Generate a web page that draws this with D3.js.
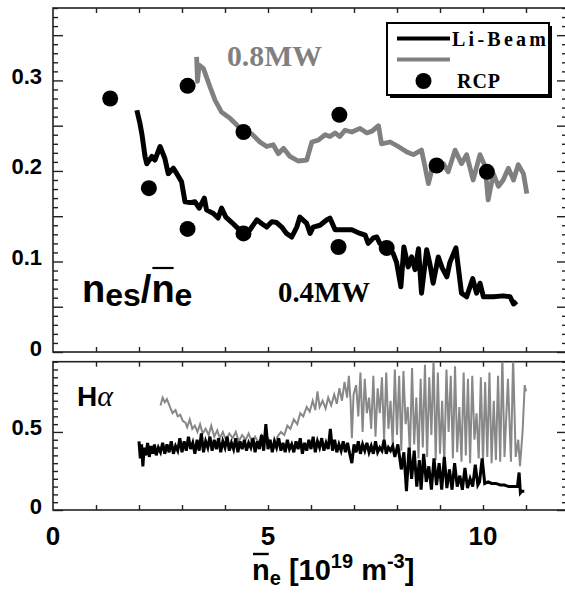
<!DOCTYPE html>
<html>
<head>
<meta charset="utf-8">
<script src="https://cdn.jsdelivr.net/npm/d3@7"></script>
<style>
  body { margin: 0; background: #fff; }
  svg { display: block; }
</style>
</head>
<body>
<svg id="chart" width="565" height="596"></svg>
<script>
// RCP probe points [ne, nes/ne]
const rcpPoints = [
  [1.33, 0.280], [2.23, 0.181], [3.13, 0.294], [3.13, 0.136], [4.43, 0.243],
  [4.43, 0.131], [6.66, 0.262], [6.64, 0.116], [7.76, 0.115], [8.92, 0.206],
  [10.09, 0.199],
]

// Li-beam, 0.4 MW (black)
const liBeam04 = [
  [1.95, 0.267], [2.02, 0.253], [2.07, 0.240], [2.14, 0.216], [2.18, 0.208],
  [2.30, 0.216], [2.37, 0.212], [2.49, 0.227], [2.60, 0.214], [2.68, 0.197],
  [2.80, 0.203], [2.88, 0.197], [2.99, 0.188], [3.07, 0.166], [3.19, 0.165],
  [3.30, 0.166], [3.40, 0.159], [3.52, 0.170], [3.57, 0.157], [3.73, 0.153],
  [3.84, 0.148], [3.92, 0.159], [4.02, 0.149], [4.16, 0.143], [4.27, 0.138],
  [4.43, 0.131], [4.58, 0.135], [4.74, 0.146], [4.85, 0.142], [4.97, 0.138],
  [5.09, 0.144], [5.20, 0.143], [5.32, 0.138], [5.43, 0.131], [5.55, 0.127],
  [5.67, 0.138], [5.74, 0.149], [5.90, 0.142], [5.98, 0.131], [6.05, 0.138],
  [6.21, 0.140], [6.37, 0.146], [6.44, 0.148], [6.56, 0.135], [6.79, 0.135],
  [6.95, 0.135], [7.14, 0.131], [7.26, 0.129], [7.33, 0.120], [7.45, 0.126],
  [7.53, 0.127], [7.60, 0.120], [7.76, 0.116], [7.91, 0.109], [7.99, 0.099],
  [8.09, 0.072], [8.16, 0.116], [8.26, 0.094], [8.34, 0.105], [8.42, 0.091],
  [8.50, 0.114], [8.57, 0.065], [8.69, 0.113], [8.77, 0.096], [8.84, 0.076],
  [8.96, 0.105], [9.05, 0.093], [9.16, 0.083], [9.23, 0.099], [9.37, 0.115],
  [9.50, 0.065], [9.62, 0.061], [9.76, 0.081], [9.85, 0.065], [9.93, 0.076],
  [10.01, 0.061], [10.24, 0.061], [10.47, 0.062], [10.63, 0.061], [10.71, 0.053],
  [10.78, 0.056],
]

// Li-beam, 0.8 MW (grey)
const liBeam08 = [
  [3.34, 0.326], [3.36, 0.299], [3.40, 0.317], [3.50, 0.313], [3.65, 0.293],
  [3.77, 0.278], [3.92, 0.265], [4.12, 0.258], [4.27, 0.251], [4.43, 0.243],
  [4.62, 0.241], [4.81, 0.232], [4.97, 0.227], [5.12, 0.229], [5.24, 0.219],
  [5.36, 0.225], [5.51, 0.216], [5.70, 0.211], [5.90, 0.212], [6.02, 0.232],
  [6.17, 0.234], [6.33, 0.240], [6.44, 0.238], [6.56, 0.242], [6.67, 0.238],
  [6.79, 0.245], [6.95, 0.243], [7.14, 0.247], [7.30, 0.242], [7.42, 0.244],
  [7.57, 0.250], [7.64, 0.230], [7.84, 0.232], [8.03, 0.227], [8.23, 0.221],
  [8.38, 0.218], [8.57, 0.223], [8.65, 0.205], [8.73, 0.186], [8.84, 0.207],
  [8.96, 0.201], [9.08, 0.208], [9.19, 0.199], [9.35, 0.223], [9.50, 0.208],
  [9.62, 0.218], [9.77, 0.190], [9.93, 0.218], [10.05, 0.205], [10.12, 0.168],
  [10.24, 0.197], [10.36, 0.183], [10.47, 0.190], [10.59, 0.203], [10.71, 0.190],
  [10.82, 0.207], [10.94, 0.197], [11.02, 0.175],
]

// H-alpha, 0.4 MW (black)
const halpha04 = [
  [2.00, 0.44], [2.03, 0.33], [2.06, 0.42], [2.09, 0.28], [2.12, 0.40], [2.16, 0.35],
  [2.20, 0.43], [2.24, 0.34], [2.28, 0.41], [2.32, 0.36], [2.36, 0.42], [2.40, 0.35],
  [2.45, 0.40], [2.50, 0.37], [2.55, 0.43], [2.60, 0.36], [2.65, 0.42], [2.70, 0.37],
  [2.75, 0.44], [2.80, 0.36], [2.85, 0.41], [2.90, 0.38], [2.95, 0.46], [3.00, 0.37],
  [3.05, 0.44], [3.10, 0.38], [3.15, 0.47], [3.20, 0.39], [3.25, 0.43], [3.30, 0.36],
  [3.35, 0.45], [3.40, 0.38], [3.45, 0.49], [3.50, 0.37], [3.55, 0.44], [3.60, 0.40],
  [3.65, 0.47], [3.70, 0.38], [3.75, 0.45], [3.80, 0.39], [3.85, 0.46], [3.90, 0.37],
  [3.95, 0.44], [4.00, 0.40], [4.05, 0.47], [4.10, 0.38], [4.15, 0.43], [4.20, 0.39],
  [4.25, 0.46], [4.30, 0.37], [4.35, 0.44], [4.40, 0.39], [4.45, 0.45], [4.50, 0.38],
  [4.55, 0.43], [4.60, 0.40], [4.65, 0.46], [4.70, 0.37], [4.75, 0.44], [4.80, 0.39],
  [4.85, 0.48], [4.90, 0.38], [4.95, 0.55], [5.00, 0.39], [5.05, 0.45], [5.10, 0.37],
  [5.15, 0.44], [5.20, 0.40], [5.25, 0.46], [5.30, 0.38], [5.35, 0.43], [5.40, 0.37],
  [5.45, 0.45], [5.50, 0.39], [5.55, 0.42], [5.60, 0.37], [5.65, 0.44], [5.70, 0.39],
  [5.75, 0.46], [5.80, 0.36], [5.85, 0.43], [5.90, 0.38], [5.95, 0.45], [6.00, 0.39],
  [6.05, 0.47], [6.10, 0.37], [6.15, 0.44], [6.20, 0.40], [6.25, 0.46], [6.30, 0.38],
  [6.35, 0.43], [6.40, 0.39], [6.45, 0.52], [6.50, 0.38], [6.55, 0.45], [6.60, 0.37],
  [6.65, 0.42], [6.70, 0.38], [6.75, 0.44], [6.80, 0.37], [6.85, 0.43], [6.90, 0.36],
  [6.95, 0.30], [7.00, 0.42], [7.05, 0.37], [7.10, 0.44], [7.15, 0.36], [7.20, 0.42],
  [7.25, 0.38], [7.30, 0.43], [7.35, 0.37], [7.40, 0.41], [7.45, 0.36], [7.50, 0.44],
  [7.55, 0.37], [7.60, 0.40], [7.65, 0.38], [7.70, 0.45], [7.75, 0.36], [7.80, 0.40],
  [7.85, 0.38], [7.90, 0.41], [7.95, 0.34], [8.02, 0.42], [8.10, 0.26], [8.16, 0.37],
  [8.22, 0.12], [8.28, 0.40], [8.34, 0.20], [8.40, 0.38], [8.46, 0.15], [8.52, 0.32],
  [8.56, 0.13], [8.62, 0.36], [8.68, 0.18], [8.74, 0.28], [8.80, 0.13], [8.86, 0.33],
  [8.92, 0.16], [8.98, 0.30], [9.04, 0.13], [9.10, 0.34], [9.16, 0.14], [9.22, 0.26],
  [9.28, 0.13], [9.34, 0.30], [9.40, 0.15], [9.46, 0.22], [9.52, 0.13], [9.58, 0.27],
  [9.64, 0.14], [9.70, 0.20], [9.76, 0.15], [9.82, 0.29], [9.88, 0.16], [9.92, 0.18],
  [9.98, 0.33], [10.04, 0.17], [10.12, 0.18], [10.20, 0.17], [10.30, 0.17], [10.40, 0.16],
  [10.50, 0.16], [10.60, 0.15], [10.70, 0.15], [10.80, 0.15], [10.84, 0.24], [10.87, 0.11],
  [10.90, 0.12], [10.96, 0.12],
]

// H-alpha, 0.8 MW (grey)
const halpha08 = [
  [2.50, 0.67], [2.55, 0.72], [2.60, 0.69], [2.65, 0.71], [2.72, 0.66], [2.78, 0.62],
  [2.85, 0.64], [2.90, 0.60], [2.96, 0.61], [3.02, 0.57], [3.08, 0.56], [3.12, 0.53],
  [3.18, 0.58], [3.24, 0.52], [3.30, 0.54], [3.36, 0.50], [3.42, 0.55], [3.48, 0.49],
  [3.55, 0.52], [3.62, 0.48], [3.68, 0.54], [3.75, 0.47], [3.82, 0.51], [3.88, 0.46],
  [3.95, 0.50], [4.02, 0.45], [4.10, 0.49], [4.18, 0.46], [4.25, 0.50], [4.32, 0.44],
  [4.40, 0.48], [4.48, 0.45], [4.55, 0.49], [4.62, 0.44], [4.70, 0.47], [4.78, 0.43],
  [4.85, 0.48], [4.92, 0.44], [5.00, 0.46], [5.08, 0.42], [5.15, 0.40], [5.22, 0.47],
  [5.30, 0.50], [5.38, 0.48], [5.45, 0.54], [5.52, 0.52], [5.60, 0.58], [5.68, 0.55],
  [5.75, 0.62], [5.82, 0.60], [5.90, 0.66], [5.97, 0.63], [6.04, 0.70], [6.10, 0.64],
  [6.15, 0.76], [6.20, 0.66], [6.27, 0.70], [6.34, 0.65], [6.40, 0.72], [6.47, 0.67],
  [6.54, 0.74], [6.60, 0.68], [6.66, 0.78], [6.72, 0.70], [6.78, 0.82], [6.84, 0.72],
  [6.88, 0.86], [6.92, 0.70], [6.95, 0.46], [6.99, 0.74], [7.05, 0.80], [7.10, 0.60],
  [7.15, 0.88], [7.20, 0.50], [7.25, 0.84], [7.30, 0.62], [7.35, 0.72], [7.40, 0.52],
  [7.45, 0.86], [7.50, 0.47], [7.55, 0.78], [7.60, 0.62], [7.65, 0.85], [7.70, 0.45],
  [7.75, 0.88], [7.80, 0.52], [7.85, 0.70], [7.90, 0.42], [7.95, 0.90], [8.00, 0.48],
  [8.05, 0.86], [8.10, 0.38], [8.15, 0.89], [8.20, 0.55], [8.25, 0.66], [8.30, 0.36],
  [8.35, 0.91], [8.40, 0.42], [8.45, 0.72], [8.50, 0.33], [8.55, 0.84], [8.60, 0.40],
  [8.65, 0.93], [8.70, 0.34], [8.75, 0.85], [8.80, 0.48], [8.85, 0.97], [8.90, 0.32],
  [8.95, 0.88], [9.00, 0.36], [9.05, 0.70], [9.10, 0.30], [9.15, 0.90], [9.20, 0.50],
  [9.25, 0.86], [9.30, 0.33], [9.35, 0.92], [9.40, 0.37], [9.45, 0.66], [9.50, 0.31],
  [9.55, 0.88], [9.60, 0.35], [9.65, 0.84], [9.70, 0.30], [9.75, 0.86], [9.80, 0.45],
  [9.85, 0.62], [9.90, 0.33], [9.95, 0.85], [10.00, 0.30], [10.05, 0.82], [10.10, 0.34],
  [10.15, 0.88], [10.20, 0.30], [10.25, 0.70], [10.30, 0.32], [10.35, 0.86], [10.40, 0.31],
  [10.45, 0.98], [10.50, 0.34], [10.58, 0.84], [10.65, 0.31], [10.70, 0.98], [10.76, 0.34],
  [10.82, 0.45], [10.86, 0.28], [10.92, 0.50], [10.97, 0.80], [11.00, 0.76],
]

const xTickLabels = [0, 5, 10]
const topYLabels = [0, 0.1, 0.2, 0.3]
const botYLabels = [0, 0.5]

const SANS = 'Liberation Sans, Arial, Helvetica, sans-serif'
const SERIF = 'Liberation Serif, Times New Roman, serif'
const GREY = '#808080'

const svg = d3.select('#chart')

const x = d3.scaleLinear().domain([0, 12]).range([53, 569])
const yTop = d3.scaleLinear().domain([0, 0.38]).range([352, 8])
const yBot = d3.scaleLinear().domain([0, 0.95]).range([510, 361.7])

// one framed panel with inward ticks on all four sides
function drawFrame(y, minorStep, majorStep, clipId) {
  const [y0, y1] = y.range()
  const [x0, x1] = x.range()
  const ymax = y.domain()[1]
  const minor = d3.range(0, ymax + 1e-9, minorStep).filter(v => Math.abs(v / majorStep - Math.round(v / majorStep)) > 1e-6)
  const major = d3.range(0, ymax + 1e-9, majorStep)
  const xt = d3.range(1, 12)

  const g = svg.append('g').attr('class', 'frame')

  g.append('defs').append('clipPath').attr('id', clipId)
    .append('rect')
    .attr('x', x0).attr('y', y1)
    .attr('width', x1 - x0).attr('height', y0 - y1)

  const tickAxis = (axis, tx, ty) => {
    const a = g.append('g')
      .attr('transform', `translate(${tx},${ty})`)
      .call(axis.tickFormat('').tickSizeOuter(0))
    a.select('.domain').remove()
    a.selectAll('line').attr('stroke', '#222').attr('stroke-width', 1.4)
  }

  tickAxis(d3.axisRight(y).tickValues(minor).tickSize(5), x0, 0)
  tickAxis(d3.axisRight(y).tickValues(major).tickSize(10), x0, 0)
  tickAxis(d3.axisLeft(y).tickValues(minor).tickSize(7), x1, 0)
  tickAxis(d3.axisLeft(y).tickValues(major).tickSize(12), x1, 0)
  tickAxis(d3.axisBottom(x).tickValues(xt).tickSize(5), 0, y1)
  tickAxis(d3.axisTop(x).tickValues(xt).tickSize(5), 0, y0)

  g.append('rect')
    .attr('x', x0).attr('y', y1)
    .attr('width', x1 - x0).attr('height', y0 - y1)
    .attr('fill', 'none')
    .attr('stroke', '#222')
    .attr('stroke-width', 1.6)
}

drawFrame(yTop, 0.01, 0.05, 'clip-top')
drawFrame(yBot, 0.05, 0.5, 'clip-bot')

// y tick labels
function yLabels(y, values, fmt) {
  svg.append('g').selectAll('text')
    .data(values)
    .join('text')
    .attr('x', 42)
    .attr('y', d => y(d) + 3.5)
    .attr('text-anchor', 'end')
    .attr('font-family', SANS)
    .attr('font-weight', 'bold')
    .attr('font-size', 22)
    .text(fmt)
}
yLabels(yTop, topYLabels, d => d === 0 ? '0' : d3.format('.1f')(d))
yLabels(yBot, botYLabels, d => d === 0 ? '0' : d3.format('.1f')(d))

// x tick labels
svg.append('g').selectAll('text')
  .data(xTickLabels)
  .join('text')
  .attr('x', d => x(d))
  .attr('y', 545)
  .attr('text-anchor', 'middle')
  .attr('font-family', SANS)
  .attr('font-weight', 'bold')
  .attr('font-size', 26)
  .text(d => d)

// top panel lines and points
const lineTop = d3.line().x(d => x(d[0])).y(d => yTop(d[1]))
const topG = svg.append('g').attr('clip-path', 'url(#clip-top)')
topG.append('path').datum(liBeam08)
  .attr('d', lineTop).attr('fill', 'none')
  .attr('stroke', GREY).attr('stroke-width', 4.8).attr('stroke-linejoin', 'round')
topG.append('path').datum(liBeam04)
  .attr('d', lineTop).attr('fill', 'none')
  .attr('stroke', '#000').attr('stroke-width', 5).attr('stroke-linejoin', 'round')
topG.selectAll('circle').data(rcpPoints).join('circle')
  .attr('cx', d => x(d[0])).attr('cy', d => yTop(d[1])).attr('r', 8)
  .attr('fill', '#000')

// bottom panel lines
const lineBot = d3.line().x(d => x(d[0])).y(d => yBot(d[1]))
const botG = svg.append('g').attr('clip-path', 'url(#clip-bot)')
botG.append('path').datum(halpha08)
  .attr('d', lineBot).attr('fill', 'none')
  .attr('stroke', '#888').attr('stroke-width', 2)
botG.append('path').datum(halpha04)
  .attr('d', lineBot).attr('fill', 'none')
  .attr('stroke', '#000').attr('stroke-width', 3)

// annotations
svg.append('text')
  .attr('x', 227).attr('y', 66)
  .attr('font-family', SERIF).attr('font-weight', 'bold').attr('font-size', 29)
  .attr('fill', GREY)
  .attr('textLength', 95).attr('lengthAdjust', 'spacingAndGlyphs')
  .text('0.8MW')

svg.append('text')
  .attr('x', 278).attr('y', 302)
  .attr('font-family', SERIF).attr('font-weight', 'bold').attr('font-size', 29)
  .attr('fill', '#000')
  .attr('textLength', 92).attr('lengthAdjust', 'spacingAndGlyphs')
  .text('0.4MW')

// nes / ne label
const ratio = svg.append('text')
  .attr('x', 82).attr('y', 302)
  .attr('font-family', SANS).attr('font-weight', 'bold')
ratio.append('tspan').attr('font-size', 38).text('n')
ratio.append('tspan').attr('font-size', 32).attr('dy', 4).text('es')
ratio.append('tspan').attr('font-size', 38).attr('dy', -4).text('/')
ratio.append('tspan').attr('font-size', 38).text('n')
ratio.append('tspan').attr('font-size', 32).attr('dy', 4).text('e')
const nBar = ratio.node().getExtentOfChar(4)
svg.append('line')
  .attr('x1', nBar.x + 1).attr('x2', nBar.x + nBar.width - 1)
  .attr('y1', 268).attr('y2', 268)
  .attr('stroke', '#000').attr('stroke-width', 2.2)

// H alpha label
const ha = svg.append('text').attr('x', 77).attr('y', 406)
ha.append('tspan').attr('font-family', SANS).attr('font-weight', 'bold').attr('font-size', 28).text('H')
ha.append('tspan').attr('font-family', SERIF).attr('font-style', 'italic').attr('font-size', 30).text('α')

// x axis title
const title = svg.append('text')
  .attr('x', 252).attr('y', 580)
  .attr('font-family', SANS).attr('font-weight', 'bold')
title.append('tspan').attr('font-size', 29).text('n')
title.append('tspan').attr('font-size', 20).attr('dy', 5).text('e')
title.append('tspan').attr('font-size', 29).attr('dy', -5).text(' [10')
title.append('tspan').attr('font-size', 20).attr('dy', -12).text('19')
title.append('tspan').attr('font-size', 29).attr('dy', 12).text(' m')
title.append('tspan').attr('font-size', 20).attr('dy', -12).text('-3')
title.append('tspan').attr('font-size', 29).attr('dy', 12).text(']')
const tBar = title.node().getExtentOfChar(0)
svg.append('line')
  .attr('x1', tBar.x + 1).attr('x2', tBar.x + tBar.width - 1)
  .attr('y1', 554).attr('y2', 554)
  .attr('stroke', '#000').attr('stroke-width', 2.4)

// legend
const lg = svg.append('g').attr('class', 'legend')
lg.append('rect')
  .attr('x', 390).attr('y', 26).attr('width', 162).attr('height', 72)
  .attr('fill', '#000')
lg.append('rect')
  .attr('x', 387).attr('y', 23).attr('width', 162).attr('height', 72)
  .attr('fill', '#fff').attr('stroke', '#000').attr('stroke-width', 2)
lg.append('line')
  .attr('x1', 397).attr('x2', 450).attr('y1', 38.5).attr('y2', 38.5)
  .attr('stroke', '#000').attr('stroke-width', 4)
lg.append('line')
  .attr('x1', 397).attr('x2', 450).attr('y1', 59.5).attr('y2', 59.5)
  .attr('stroke', GREY).attr('stroke-width', 4)
lg.append('circle').attr('cx', 423.5).attr('cy', 81).attr('r', 8).attr('fill', '#000')
lg.append('text')
  .attr('x', 452).attr('y', 46)
  .attr('font-family', SERIF).attr('font-weight', 'bold').attr('font-size', 20)
  .attr('textLength', 94).attr('lengthAdjust', 'spacing')
  .text('Li-Beam')
lg.append('text')
  .attr('x', 457).attr('y', 88)
  .attr('font-family', SERIF).attr('font-weight', 'bold').attr('font-size', 20)
  .attr('textLength', 43).attr('lengthAdjust', 'spacing')
  .text('RCP')
</script>
</body>
</html>
